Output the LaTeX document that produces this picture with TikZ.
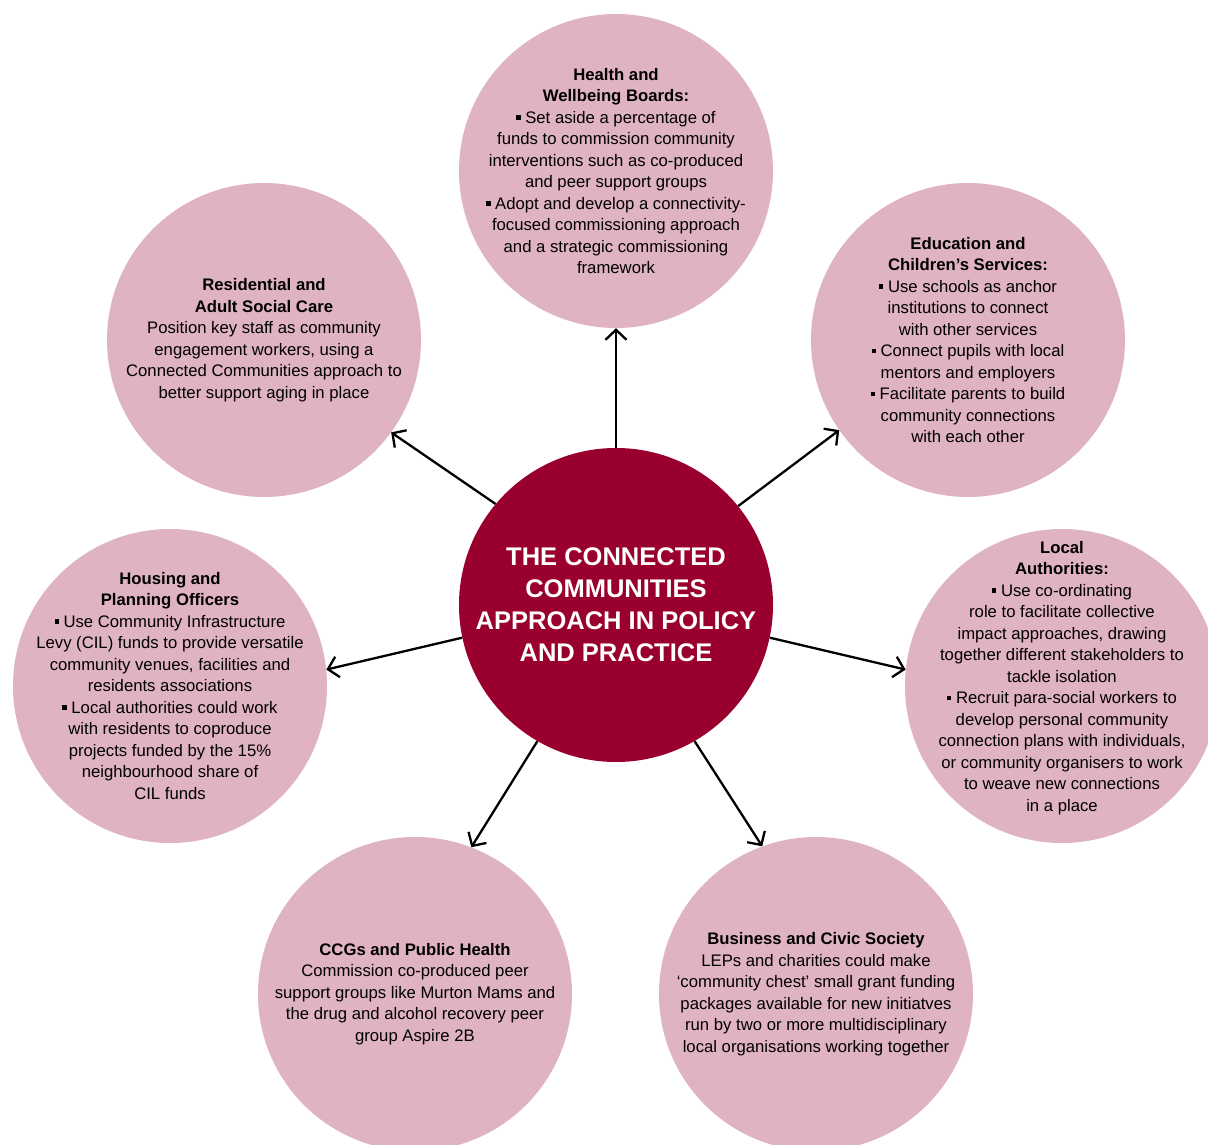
\documentclass[tikz,border=0pt]{standalone}
\usepackage{fontspec}
\setmainfont{Liberation Sans}
\usepackage{xcolor}
\usetikzlibrary{shapes,arrows.meta,positioning}
\definecolor{deepred}{RGB}{153, 0, 46}
\definecolor{rose}{RGB}{223, 179, 192}
\newcommand{\sqb}{\rule[0.42ex]{0.26em}{0.26em}}
\tikzstyle{hub} = [circle, fill=deepred, minimum size=314pt, inner sep=0pt]
\tikzstyle{area} = [circle, fill=rose, minimum size=314pt, inner sep=0pt]
\tikzstyle{title} = [align=center, text=white, font=\fontsize{25.5}{32}\selectfont\bfseries]
\tikzstyle{blurb} = [align=center, font=\fontsize{16.7}{21.5}\selectfont]
\tikzstyle{line} = [draw, line width=2.3pt, -{Straight Barb[length=10pt,width=21pt]}]

\begin{document}
\begin{tikzpicture}[auto]
    \useasboundingbox (-616pt,-539pt) rectangle (592pt,605pt);
    \node [hub] (hub) {};
    \node [area, above of=hub, node distance=434pt] (health) {};
    \node [area, left of=hub, node distance=352pt, yshift=265pt] (care) {};
    \node [area, right of=hub, node distance=352pt, yshift=265pt] (school) {};
    \node [area, left of=hub, node distance=446pt, yshift=-81pt] (housing) {};
    \node [area, right of=hub, node distance=446pt, yshift=-81pt] (council) {};
    \node [area, left of=hub, node distance=201pt, yshift=-389pt] (ccg) {};
    \node [area, right of=hub, node distance=200pt, yshift=-389pt] (civic) {};

    \node [title] (hub-text) at (hub) {THE CONNECTED\\COMMUNITIES\\APPROACH IN POLICY\\AND PRACTICE};
    \node [blurb] (health-text) at (health) {\textbf{Health and}\\\textbf{Wellbeing Boards:}\\
        \sqb{} Set aside a percentage of\\funds to commission community\\
        interventions such as co-produced\\and peer support groups\\
        \sqb{} Adopt and develop a connectivity-\\focused commissioning approach\\
        and a strategic commissioning\\framework};
    \node [blurb] (care-text) at (care) {\textbf{Residential and}\\\textbf{Adult Social Care}\\
        Position key staff as community\\engagement workers, using a\\
        Connected Communities approach to\\better support aging in place};
    \node [blurb] (school-text) at (school) {\textbf{Education and}\\\textbf{Children’s Services:}\\
        \sqb{} Use schools as anchor\\institutions to connect\\with other services\\
        \sqb{} Connect pupils with local\\mentors and employers\\
        \sqb{} Facilitate parents to build\\community connections\\with each other};
    \node [blurb] (housing-text) at (housing) {\textbf{Housing and}\\\textbf{Planning Officers}\\
        \sqb{} Use Community Infrastructure\\Levy (CIL) funds to provide versatile\\
        community venues, facilities and\\residents associations\\
        \sqb{} Local authorities could work\\with residents to coproduce\\
        projects funded by the 15\%\\neighbourhood share of\\CIL funds};
    \node [blurb, yshift=8pt] (council-text) at (council) {\textbf{Local}\\\textbf{Authorities:}\\
        \sqb{} Use co-ordinating\\role to facilitate collective\\
        impact approaches, drawing\\together different stakeholders to\\tackle isolation\\
        \sqb{} Recruit para-social workers to\\develop personal community\\
        connection plans with individuals,\\or community organisers to work\\
        to weave new connections\\in a place};
    \node [blurb] (ccg-text) at (ccg) {\textbf{CCGs and Public Health}\\
        Commission co-produced peer\\support groups like Murton Mams and\\
        the drug and alcohol recovery peer\\group Aspire 2B};
    \node [blurb] (civic-text) at (civic) {\textbf{Business and Civic Society}\\
        LEPs and charities could make\\‘community chest’ small grant funding\\
        packages available for new initiatves\\run by two or more multidisciplinary\\
        local organisations working together};

    \path [line] (hub.90) -- (health.270);
    \path [line] (hub.140.6) -- (care.324.7);
    \path [line] (hub.39.6) -- (school.215.5);
    \path [line] (hub.192) -- (housing.6);
    \path [line] (hub.348) -- (council.174);
    \path [line] (hub.240) -- (ccg.69.5);
    \path [line] (hub.300) -- (civic.110.5);
\end{tikzpicture}
\end{document}
